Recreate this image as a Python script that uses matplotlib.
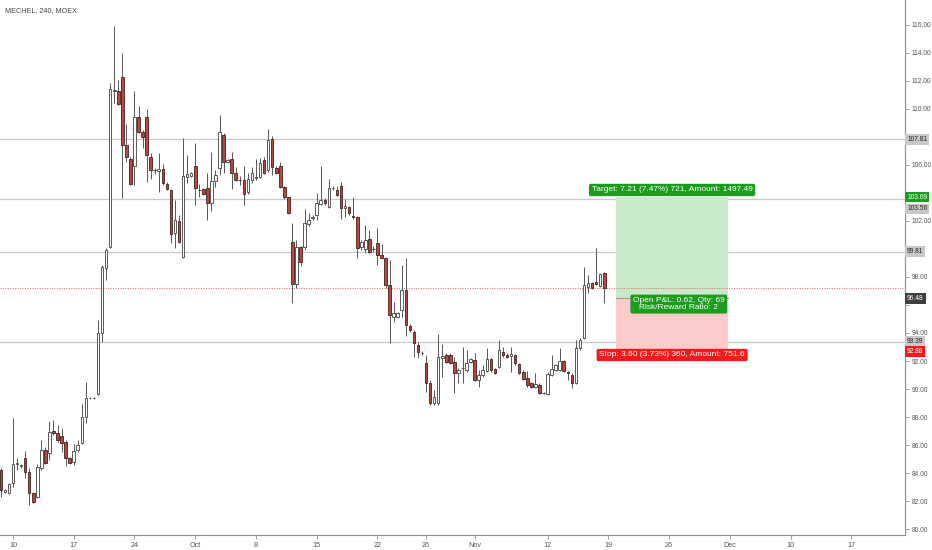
import matplotlib
matplotlib.use('Agg')
import matplotlib.pyplot as plt
from matplotlib.patches import Rectangle

plt.rcParams['font.family'] = ['Liberation Sans', 'DejaVu Sans']

# ---------------- data (4H bars, MECHEL @ MOEX) ----------------
opens = [84.23, 82.66, 82.59, 83.30, 84.66, 84.51, 85.08, 84.08, 82.59, 82.30,
         84.37, 85.65, 85.44, 87.01, 86.87, 86.65, 86.22, 85.08, 84.80, 85.65,
         86.15, 88.01, 89.36, 89.38, 89.65, 93.97, 98.64, 100.13, 111.26, 111.26,
         112.26, 107.41, 106.41, 105.91, 109.40, 108.33, 109.40, 106.55, 105.62, 105.55,
         105.69, 104.63, 104.20, 101.13, 101.99, 99.42, 105.12, 105.19, 105.91, 104.20,
         104.27, 104.34, 103.27, 104.84, 105.77, 108.12, 106.19, 106.41, 105.41, 104.91,
         104.91, 104.05, 104.91, 105.05, 105.12, 106.34, 105.62, 107.84, 105.77, 105.91,
         104.41, 103.70, 100.49, 97.49, 100.13, 100.13, 101.77, 102.20, 102.41, 103.20,
         103.48, 102.98, 104.34, 104.20, 104.48, 102.91, 102.98, 102.34, 102.27, 100.13,
         99.99, 100.70, 99.99, 100.42, 99.56, 99.35, 97.42, 95.14, 95.14, 95.64,
         97.07, 94.50, 94.07, 93.14, 92.57, 91.86, 90.43, 89.01, 89.01, 92.21,
         92.43, 92.43, 91.93, 91.14, 91.50, 91.36, 91.93, 92.07, 90.65, 91.00,
         91.29, 92.14, 91.43, 91.57, 92.64, 92.43, 92.36, 92.43, 91.79, 91.21,
         90.79, 90.43, 90.14, 90.29, 89.72, 89.65, 91.00, 91.36, 91.36, 92.00,
         91.21, 91.00, 90.43, 92.93, 93.64, 97.28, 97.57, 97.64, 97.35, 98.28]
highs = [84.37, 82.87, 83.30, 87.94, 85.08, 84.66, 85.58, 84.37, 82.66, 84.66,
         86.37, 85.87, 87.72, 87.79, 87.44, 87.22, 86.37, 85.15, 86.08, 86.37,
         88.93, 90.50, 89.43, 89.45, 94.93, 98.85, 100.06, 111.83, 115.89, 112.04,
         113.97, 108.90, 106.55, 111.26, 110.19, 108.48, 109.97, 106.84, 105.77, 106.84,
         106.05, 104.77, 104.27, 103.48, 102.41, 107.91, 106.69, 105.48, 107.55, 104.63,
         104.34, 105.41, 106.91, 105.62, 109.55, 108.26, 106.41, 106.91, 105.84, 105.19,
         105.91, 105.41, 105.84, 106.41, 106.48, 106.55, 108.55, 108.05, 105.91, 106.19,
         104.48, 103.70, 101.84, 100.63, 100.20, 102.84, 102.56, 102.41, 103.98, 105.91,
         103.63, 104.98, 104.48, 104.48, 104.77, 103.55, 103.05, 103.70, 102.34, 100.63,
         101.70, 101.34, 100.20, 101.48, 100.35, 99.42, 99.20, 96.21, 95.49, 98.85,
         99.35, 94.64, 94.21, 93.36, 92.71, 92.43, 90.65, 89.93, 93.93, 93.21,
         92.57, 92.57, 92.29, 91.50, 93.00, 92.79, 92.21, 92.57, 91.36, 91.71,
         92.93, 92.21, 91.50, 93.50, 93.00, 92.57, 93.00, 92.50, 91.86, 91.36,
         91.29, 90.50, 91.14, 90.43, 89.79, 91.21, 92.43, 91.79, 92.93, 92.07,
         91.29, 91.14, 93.50, 93.64, 98.71, 98.14, 97.64, 100.06, 98.28, 98.35]
lows = [82.30, 82.59, 82.51, 83.02, 84.23, 84.37, 83.66, 81.73, 81.87, 82.23,
        84.23, 84.66, 84.94, 86.72, 86.22, 85.51, 84.51, 84.66, 84.58, 85.51,
        86.08, 87.58, 89.29, 89.27, 89.57, 93.36, 97.78, 100.06, 110.40, 110.26,
        103.63, 106.19, 104.55, 104.55, 108.26, 107.19, 104.77, 104.98, 105.34, 104.05,
        104.55, 104.20, 100.42, 100.06, 100.42, 99.35, 104.70, 105.12, 103.13, 103.70,
        103.84, 102.06, 102.70, 104.41, 105.27, 105.41, 106.12, 104.27, 104.84, 104.55,
        103.13, 103.91, 104.70, 104.91, 105.05, 105.34, 105.48, 105.27, 105.34, 104.34,
        103.55, 102.49, 96.14, 97.21, 98.78, 99.92, 101.63, 102.06, 102.06, 103.13,
        103.13, 102.91, 104.20, 103.77, 102.13, 102.27, 102.41, 102.13, 99.35, 99.92,
        99.70, 99.70, 99.77, 98.85, 99.27, 97.21, 93.28, 94.78, 95.07, 95.14,
        93.78, 94.07, 92.29, 92.21, 92.43, 89.79, 88.86, 88.86, 88.86, 90.86,
        91.86, 91.78, 89.72, 90.43, 90.43, 91.21, 91.86, 90.57, 90.14, 90.86,
        91.21, 91.21, 91.07, 91.50, 92.29, 92.21, 91.21, 91.71, 91.07, 90.65,
        90.14, 90.07, 90.07, 89.65, 89.65, 89.57, 90.93, 91.29, 91.29, 91.21,
        90.65, 90.07, 90.36, 92.79, 93.57, 96.85, 97.14, 97.42, 97.28, 96.14]
closes = [82.80, 82.80, 83.23, 84.66, 84.70, 84.55, 84.08, 82.59, 81.94, 84.44,
          85.65, 84.73, 86.94, 86.87, 86.37, 86.15, 85.08, 84.73, 85.58, 86.01,
          88.01, 89.36, 89.38, 89.36, 93.97, 98.71, 99.92, 111.40, 111.30, 110.33,
          107.41, 106.55, 104.63, 109.40, 108.33, 107.98, 106.69, 105.62, 105.60, 105.69,
          104.70, 104.27, 101.06, 102.06, 100.49, 105.19, 105.34, 105.41, 104.34, 104.18,
          103.91, 103.27, 104.84, 105.27, 108.33, 106.19, 106.34, 105.41, 104.91, 104.89,
          103.91, 104.98, 105.41, 105.12, 106.12, 105.41, 107.76, 105.84, 105.41, 104.41,
          103.70, 102.56, 97.49, 100.13, 99.06, 101.84, 102.06, 102.27, 103.27, 103.48,
          103.27, 104.34, 104.32, 103.84, 102.91, 103.05, 102.56, 102.27, 100.06, 100.49,
          100.63, 99.77, 99.97, 99.56, 99.35, 97.42, 95.28, 95.42, 95.42, 97.07,
          94.57, 94.21, 93.28, 92.64, 92.55, 90.43, 89.01, 89.43, 92.29, 92.36,
          91.93, 91.86, 91.14, 91.36, 91.52, 91.86, 92.14, 90.65, 91.00, 91.36,
          92.14, 91.36, 91.14, 92.79, 92.43, 92.29, 92.50, 91.86, 91.14, 90.71,
          90.29, 90.14, 90.36, 89.72, 89.71, 91.07, 91.43, 91.71, 92.00, 91.29,
          91.14, 90.43, 92.93, 93.50, 97.42, 97.57, 97.21, 97.49, 98.21, 97.18]

# date ticks (bar index of the first bar of the labelled day)
date_tick_bars = [3, 18, 33, 48, 63, 78, 93, 105, 117, 135, 150, 165, 180, 195, 210]
date_tick_labels = ['10', '17', '24', 'Oct', '8', '15', '22', '26', 'Nov',
                    '12', '19', '26', 'Dec', '10', '17']

price_ticks = [80, 82, 84, 86, 88, 90, 92, 94, 96, 98, 100, 102, 104, 106,
               108, 110, 112, 114, 116]
# tick labels covered by the price-axis badges in the reference
hidden_tick_labels = [96, 100, 104, 108]

level_lines = [107.81, 103.56, 99.81, 93.39]

entry_price = 96.48
target_price = 103.69
stop_price = 92.88
pos_start_bar = 151.9
pos_end_bar = 179.6

target_text = 'Target: 7.21 (7.47%) 721, Amount: 1497.49'
pnl_text = 'Open P&L: 0.62, Qty: 69\nRisk/Reward Ratio: 2'
stop_text = 'Stop: 3.60 (3.73%) 360, Amount: 751.6'

# price-axis labels: (price, text, face, text colour, vertical display shift px)
axis_labels = [
    (107.81, '107.81', '#c9c9c9', '#222222', 0),
    (103.69, '103.69', '#1c9c1c', '#ffffff', 0),
    (103.56, '103.56', '#c9c9c9', '#222222', -10),
    (99.81, '99.81', '#c9c9c9', '#222222', 0),
    (96.48, '96.48', '#3f3f3f', '#ffffff', 0),
    (93.39, '93.39', '#c9c9c9', '#222222', 0),
    (92.88, '92.88', '#f21b1b', '#ffffff', -3),
]

# ---------------- figure ----------------
W, H = 932, 550
fig = plt.figure(figsize=(W / 100, H / 100), dpi=100)
fig.patch.set_facecolor('white')
ax = fig.add_axes([0, 15 / H, 905 / W, 535 / H])
ax.set_facecolor('white')

ax.set_xlim(-0.2, 223.26)
ax.set_ylim(79.59, 117.75)

# horizontal level lines
for lv in level_lines:
    ax.axhline(lv, color='#c8c8c8', lw=0.9, zorder=1)

# position tool
ax.add_patch(Rectangle((pos_start_bar, entry_price), pos_end_bar - pos_start_bar,
                       target_price - entry_price, fc='#c9eac9', ec='none', zorder=1.2))
ax.add_patch(Rectangle((pos_start_bar, stop_price), pos_end_bar - pos_start_bar,
                       entry_price - stop_price, fc='#fbcaca', ec='none', zorder=1.2))
ax.plot([pos_start_bar, pos_end_bar], [entry_price, entry_price], color='#9a9a9a',
        lw=0.8, zorder=1.3)

# last price dotted line
ax.axhline(closes[-1], color='#e07a7a', lw=0.8, ls=(0, (1, 1.2)), zorder=1.4)

# candles
bw = 0.64
up_edge = '#4d4d4d'
dn_face = '#b9473f'
dn_edge = '#4a2a28'
for i in range(len(opens)):
    o, h, l, c = opens[i], highs[i], lows[i], closes[i]
    ax.vlines(i, l, h, color='#555555', lw=0.7, zorder=2)
    lo, hi = min(o, c), max(o, c)
    if c >= o:
        fc, ec = 'white', up_edge
    else:
        fc, ec = dn_face, dn_edge
    ax.add_patch(Rectangle((i - bw / 2, lo), bw, max(hi - lo, 0.02),
                           fc=fc, ec=ec, lw=0.65, zorder=3))

# position labels
cx = (pos_start_bar + pos_end_bar) / 2
ax.text(cx, 104.20, target_text, ha='center', va='center', fontsize=6,
        color='white', zorder=6,
        bbox=dict(boxstyle='round,pad=0.32,rounding_size=0.2', fc='#1c9c1c', ec='none'))
ax.text(167.4, 96.06, pnl_text, ha='center', va='center', fontsize=6,
        color='white', zorder=6, linespacing=1.0, multialignment='center',
        bbox=dict(boxstyle='round,pad=0.3,rounding_size=0.2', fc='#1c9c1c', ec='none'))
ax.text(cx, 92.43, stop_text, ha='center', va='center', fontsize=6,
        color='white', zorder=6,
        bbox=dict(boxstyle='round,pad=0.32,rounding_size=0.2', fc='#f21b1b', ec='none'))

# axes styling
for s in ['top', 'left']:
    ax.spines[s].set_visible(False)
for s in ['right', 'bottom']:
    ax.spines[s].set_color('#8c8c8c')
    ax.spines[s].set_linewidth(0.8)

ax.yaxis.tick_right()
ax.set_yticks(price_ticks)
ax.set_yticklabels(['' if p in hidden_tick_labels else '%.2f' % p for p in price_ticks])
ax.tick_params(axis='y', length=3, width=0.6, color='#8c8c8c', labelsize=4.8,
               labelcolor='#555555', pad=1.5)
ax.set_xticks(date_tick_bars)
ax.set_xticklabels(date_tick_labels)
ax.tick_params(axis='x', length=3, width=0.6, color='#8c8c8c', labelsize=5.2,
               labelcolor='#555555', pad=2)

# price axis labels
for price, txt, fc, tc, dy in axis_labels:
    ax.annotate(txt, xy=(1.0, price), xycoords=('axes fraction', 'data'),
                xytext=(1.6, dy * 0.72), textcoords='offset points',
                ha='left', va='center', fontsize=4.8, color=tc, zorder=7,
                annotation_clip=False,
                bbox=dict(boxstyle='square,pad=0.28', fc=fc, ec='none'))

# title
fig.text(5 / W, 1 - 11 / H, 'MECHEL, 240, MOEX', fontsize=5.2, color='#444444',
         ha='left', va='center')

fig.savefig('out.png', dpi=100, facecolor='white')
